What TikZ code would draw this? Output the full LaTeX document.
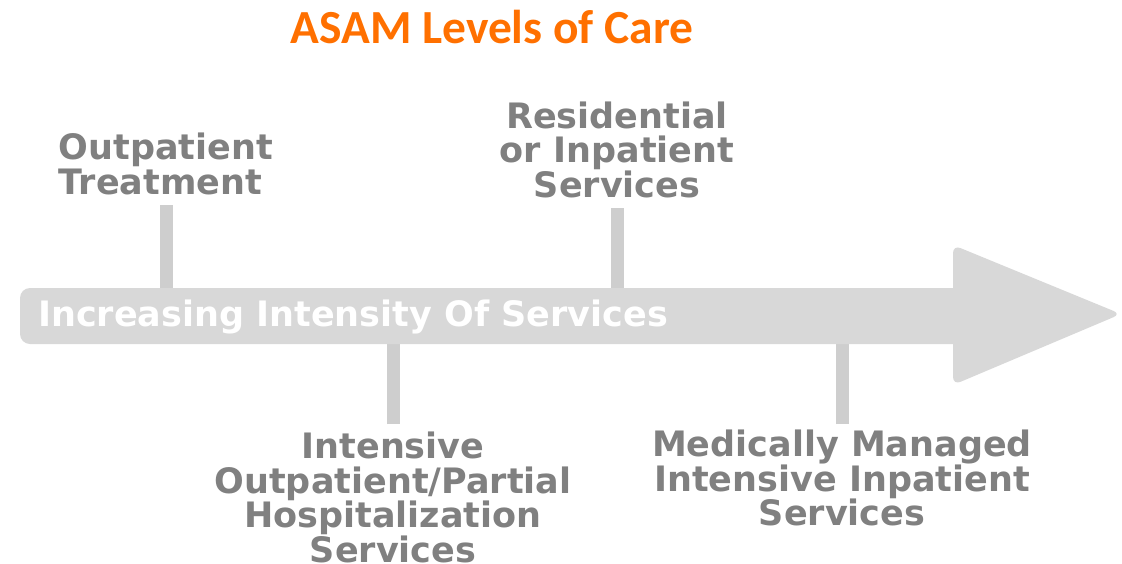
\documentclass[tikz,border=0pt]{standalone}
\usepackage{fontspec}
\setmainfont{DejaVu Sans}
\newfontfamily\titlefont{Carlito}
\usetikzlibrary{positioning}

\definecolor{asamorange}{RGB}{255,112,0}
\definecolor{bandgray}{RGB}{216,216,216}
\definecolor{stemgray}{RGB}{206,206,206}
\definecolor{labelgray}{RGB}{128,128,128}

\tikzset{
    level/.style={text=labelgray, font=\bfseries\fontsize{35}{34.5}\selectfont, align=center, inner sep=0pt},
    stem/.style={draw=stemgray, line width=13pt},
}

\begin{document}
\begin{tikzpicture}[x=1pt, y=-1pt]
    \useasboundingbox (0,0) rectangle (1122,563);

    % Title
    \node[font=\titlefont\bfseries\fontsize{47.5}{47.5}\selectfont, text=asamorange, anchor=base] (title) at (492,43) {ASAM Levels of Care};

    % Edges of the shaft
    \coordinate (shafttop) at (0,288);
    \coordinate (shaftbot) at (0,344);

    % Levels above the arrow
    \node[level, align=left, anchor=south] (outpt) at (166,195) {Outpatient\\Treatment};
    \node[level, anchor=south] (resid) at (617,198) {Residential\\or Inpatient\\Services};

    % Levels below the arrow
    \node[level, anchor=north] (iop) at (393,432) {Intensive\\Outpatient/Partial\\Hospitalization\\Services};
    \node[level, anchor=north] (medic) at (842,430) {Medically Managed\\Intensive Inpatient\\Services};

    % Stems
    \draw[stem, shorten <=10pt] (outpt.south) -- (outpt.south |- shafttop);
    \draw[stem, shorten <=10pt] (resid.south) -- (resid.south |- shafttop);
    \draw[stem, shorten <=8pt] (iop.north) -- (iop.north |- shaftbot);
    \draw[stem, shorten <=6pt] (medic.north) -- (medic.north |- shaftbot);

    % Arrow
    \fill[bandgray, rounded corners=10pt] (975,344) -- (20,344) -- (20,288) -- (975,288) -- cycle;
    \fill[bandgray, rounded corners=8pt] (953,245) -- (1121,314) -- (953,385) -- cycle;
    \node[level, text=white, anchor=west] (band) at (38,317) {Increasing Intensity Of Services};
\end{tikzpicture}
\end{document}
